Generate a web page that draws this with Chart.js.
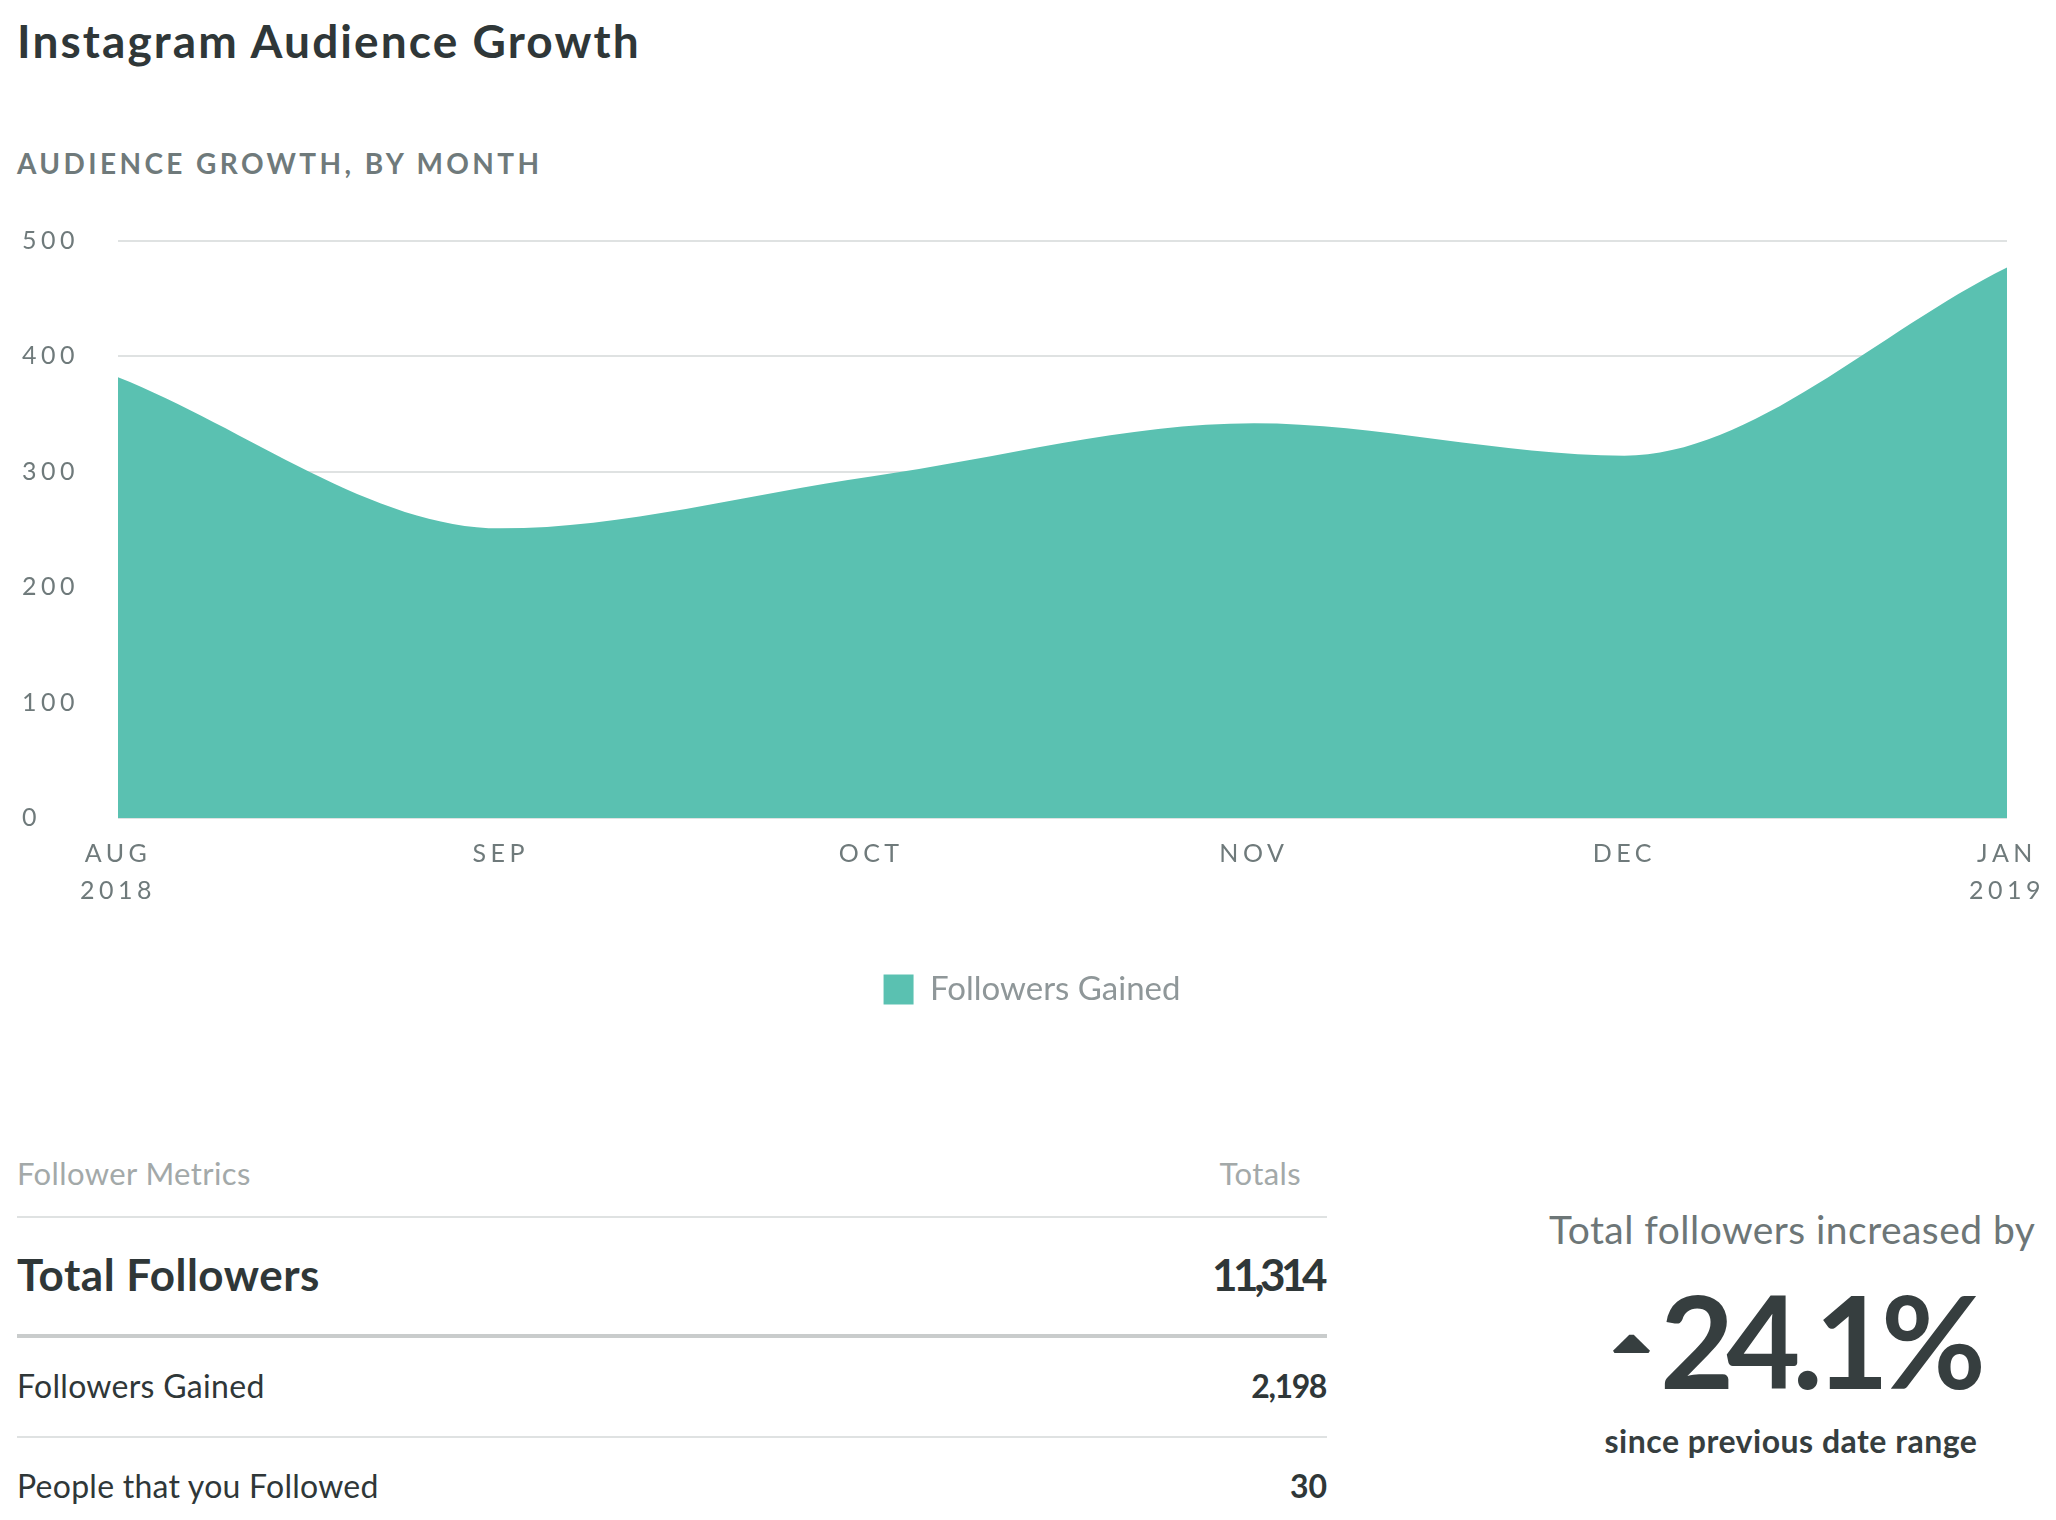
<!DOCTYPE html>
<html>
<head>
<meta charset="utf-8">
<script src="https://cdn.jsdelivr.net/npm/chart.js@4.4.1/dist/chart.umd.min.js"></script>
<style>
    body { margin: 0; width: 2056px; height: 1520px; background: #fff; font-family: Lato, "Open Sans", sans-serif; position: relative; overflow: hidden; }
    .abs { position: absolute; white-space: nowrap; line-height: 1; }
    #title { left: 17px; top: 18px; font-size: 46px; font-weight: 700; color: #2f3738; letter-spacing: 2.1px; }
    #subtitle { left: 17px; top: 149px; font-size: 28px; font-weight: 700; color: #6f7a7b; letter-spacing: 3.4px; }
    #chartBox { position: absolute; left: 0; top: 215px; width: 2056px; height: 801px; }
    .row { position: absolute; left: 17px; width: 1310px; }
    .row span { position: absolute; top: 0; white-space: nowrap; line-height: 1; }
    .row .r { right: 0; }
    .hr { position: absolute; left: 17px; width: 1310px; background: #dfe2e2; height: 2px; }
    #arrow { position: absolute; left: 1613px; top: 1334px; width: 37px; height: 19px; background: #363e3f;
             clip-path: polygon(0% 88%, 44% 4%, 56% 4%, 100% 88%, 96% 100%, 4% 100%); }
</style>
</head>
<body>
<div id="title" class="abs">Instagram Audience Growth</div>
<div id="subtitle" class="abs">AUDIENCE GROWTH, BY MONTH</div>
<div id="chartBox"><canvas id="chart"></canvas></div>

<div class="row" style="top:1158px; font-size:31px; color:#a3a9a9; letter-spacing:0.4px;"><span>Follower Metrics</span><span class="r" style="right:26px;">Totals</span></div>
<div class="hr" style="top:1216px;"></div>
<div class="row" style="top:1252px; font-size:44px; font-weight:700; color:#2f3738;"><span style="letter-spacing:0.5px;">Total Followers</span><span class="r" style="letter-spacing:-4.5px; right:4px;">11,314</span></div>
<div class="hr" style="top:1334px; height:4px; background:#c9cccc;"></div>
<div class="row" style="top:1370px; font-size:32px; color:#2f3738;"><span style="letter-spacing:0.3px;">Followers Gained</span><span class="r" style="font-weight:700; letter-spacing:-1.4px; right:1px;">2,198</span></div>
<div class="hr" style="top:1436px;"></div>
<div class="row" style="top:1470px; font-size:32px; color:#2f3738;"><span style="letter-spacing:0.25px;">People that you Followed</span><span class="r" style="font-weight:700;">30</span></div>

<div class="abs" style="left:1549px; width:470px; text-align:center; top:1210px; font-size:39px; color:#6d7677; letter-spacing:0.45px;">Total followers increased by</div>
<div id="arrow"></div>
<div class="abs" style="left:1584px; width:470px; text-align:center; top:1276px; font-size:128px; font-weight:700; color:#363e3f; letter-spacing:-8px;">24.1%</div>
<div class="abs" style="left:1556px; width:470px; text-align:center; top:1425px; font-size:32px; font-weight:700; color:#363e3f; letter-spacing:0.5px;">since previous date range</div>

<script>
// months shown on the x axis, days since Aug 1 2018
const months = ["AUG", "SEP", "OCT", "NOV", "DEC", "JAN"];
const years = ["2018", "", "", "", "", "2019"];
const dayOffsets = [0, 31, 61, 92, 122, 153];
const followersGained = [382, 251, 296, 342, 314, 477];
const yTicks = [0, 100, 200, 300, 400, 500];

const tealFill = "#5ac1b1";
const axisGray = "#6f7a7b";

const points = dayOffsets.map((d, i) => ({ x: d, y: followersGained[i] }));

// tick labels get wider tracking, drawn after the area (ticks.z = 1)
const trackingPlugin = {
    id: "tracking",
    afterDatasetsDraw(chart) {
        chart.ctx.letterSpacing = "4.5px";
    },
    afterDraw(chart) {
        chart.ctx.letterSpacing = "0px";
    }
};

Chart.defaults.font.family = "Lato, 'Open Sans', sans-serif";

const ctx = document.getElementById("chart").getContext("2d");
new Chart(ctx, {
    type: "line",
    data: {
        datasets: [{
            label: "Followers Gained",
            data: points,
            backgroundColor: tealFill,
            borderColor: tealFill,
            borderWidth: 0,
            fill: "origin",
            pointRadius: 0,
            cubicInterpolationMode: "monotone"
        }]
    },
    options: {
        responsive: true,
        maintainAspectRatio: false,
        animation: false,
        layout: { padding: { left: 22, right: 14, top: 26, bottom: 0 } },
        plugins: {
            tooltip: { enabled: false },
            legend: {
                position: "bottom",
                labels: {
                    boxWidth: 30,
                    boxHeight: 30,
                    padding: 18,
                    color: "#8f9799",
                    font: { size: 33 }
                }
            }
        },
        scales: {
            x: {
                type: "linear",
                min: dayOffsets[0],
                max: dayOffsets[dayOffsets.length - 1],
                afterBuildTicks: axis => {
                    axis.ticks = dayOffsets.map(v => ({ value: v }));
                },
                afterFit: axis => {
                    axis.height = 137;
                    axis.paddingRight = 49;
                },
                grid: { display: false },
                border: { display: false },
                ticks: {
                    z: 1,
                    autoSkip: false,
                    maxRotation: 0,
                    padding: 9,
                    color: axisGray,
                    font: { size: 25, lineHeight: 1.5 },
                    callback: (value, index) => years[index] ? [months[index], years[index]] : months[index]
                }
            },
            y: {
                min: 0,
                max: 500,
                afterBuildTicks: axis => {
                    axis.ticks = yTicks.map(v => ({ value: v }));
                },
                afterFit: axis => { axis.width = 96; },
                grid: { color: "#dfe2e2", lineWidth: 2, drawTicks: false },
                border: { display: false },
                ticks: {
                    z: 1,
                    crossAlign: "far",
                    color: axisGray,
                    font: { size: 25 }
                }
            }
        }
    },
    plugins: [trackingPlugin]
});
</script>
</body>
</html>
